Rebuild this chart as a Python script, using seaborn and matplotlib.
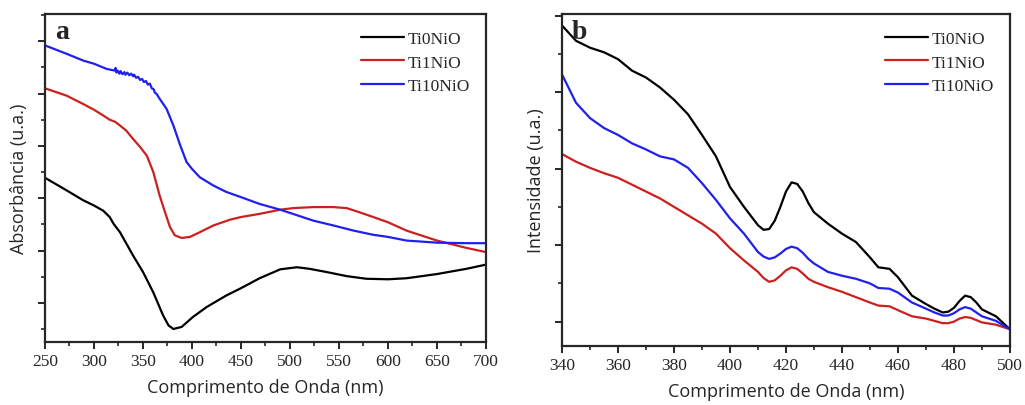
import numpy as np
import pandas as pd
import seaborn as sns
import matplotlib.pyplot as plt
from matplotlib.ticker import MultipleLocator

# panel a: absorbance (arbitrary units)
wl_a_black = [250, 272, 289, 300, 309.5, 316, 320, 326.5, 340, 350, 360.5, 370.5, 376, 381, 389.5, 401, 415, 435, 450, 469, 490, 507, 520, 537, 558, 578, 600, 619, 650, 680, 700]
abs_black = [3.39, 3.15, 2.96, 2.86, 2.76, 2.64, 2.51, 2.35, 1.90, 1.59, 1.20, 0.76, 0.57, 0.50, 0.54, 0.73, 0.92, 1.14, 1.28, 1.47, 1.64, 1.68, 1.65, 1.59, 1.51, 1.46, 1.45, 1.47, 1.55, 1.65, 1.73]
wl_a_red = [250, 272, 289, 300, 309.5, 316, 321.5, 326.5, 333, 340, 347, 354, 360.5, 367, 372.5, 377.5, 382.5, 389.5, 398, 408, 422, 439, 450, 469, 490, 503, 524, 544, 558, 571, 585, 600, 619, 650, 680, 700]
abs_red = [5.10, 4.96, 4.80, 4.69, 4.58, 4.50, 4.46, 4.39, 4.29, 4.13, 3.98, 3.81, 3.50, 3.05, 2.73, 2.45, 2.29, 2.24, 2.26, 2.35, 2.48, 2.59, 2.64, 2.70, 2.78, 2.81, 2.83, 2.83, 2.81, 2.73, 2.64, 2.54, 2.38, 2.19, 2.05, 1.97]
wl_a_blue = [250, 272, 289, 300, 313, 321, 322, 323, 324, 326, 327, 329, 331, 332, 334, 336, 338, 340, 341, 343, 345, 347, 349, 351, 353, 355, 357, 359, 361, 362, 364, 367, 374, 381, 388, 394.5, 400, 408, 422, 435, 450, 469, 490, 503, 524, 544, 565, 585, 600, 619, 650, 680, 700]
abs_blue = [5.92, 5.76, 5.63, 5.57, 5.47, 5.44, 5.49, 5.40, 5.44, 5.38, 5.43, 5.37, 5.41, 5.36, 5.40, 5.35, 5.38, 5.33, 5.36, 5.30, 5.32, 5.26, 5.28, 5.22, 5.24, 5.17, 5.19, 5.10, 5.08, 5.02, 4.99, 4.90, 4.71, 4.39, 4.01, 3.69, 3.56, 3.40, 3.24, 3.12, 3.02, 2.89, 2.78, 2.70, 2.57, 2.48, 2.38, 2.30, 2.26, 2.19, 2.15, 2.14, 2.14]

# panel b: intensity (arbitrary units)
wl_b = [340, 345, 350, 355, 360, 365, 370, 375, 380, 385, 390, 395, 400, 405, 410, 412, 414, 416, 418, 420, 422, 424, 426, 428, 430, 435, 440, 445, 450, 453, 457, 460, 465, 470, 473, 476, 478, 480, 482, 484, 486, 488, 490, 495, 500]
int_black = [4.87, 4.67, 4.58, 4.52, 4.43, 4.28, 4.19, 4.06, 3.90, 3.71, 3.44, 3.16, 2.76, 2.50, 2.26, 2.20, 2.21, 2.32, 2.50, 2.70, 2.82, 2.80, 2.70, 2.55, 2.43, 2.28, 2.15, 2.04, 1.84, 1.71, 1.69, 1.58, 1.34, 1.23, 1.17, 1.12, 1.13, 1.18, 1.27, 1.34, 1.32, 1.25, 1.16, 1.07, 0.90]
int_blue = [4.23, 3.86, 3.66, 3.53, 3.44, 3.33, 3.25, 3.16, 3.12, 3.01, 2.81, 2.59, 2.35, 2.15, 1.91, 1.85, 1.82, 1.84, 1.89, 1.95, 1.98, 1.96, 1.90, 1.82, 1.76, 1.65, 1.60, 1.56, 1.50, 1.44, 1.43, 1.38, 1.25, 1.17, 1.12, 1.08, 1.08, 1.11, 1.16, 1.19, 1.17, 1.12, 1.07, 1.01, 0.90]
int_red = [3.19, 3.09, 3.01, 2.94, 2.88, 2.79, 2.70, 2.61, 2.50, 2.39, 2.28, 2.15, 1.96, 1.80, 1.65, 1.57, 1.52, 1.54, 1.60, 1.67, 1.71, 1.69, 1.63, 1.56, 1.52, 1.45, 1.39, 1.32, 1.25, 1.21, 1.20, 1.15, 1.07, 1.04, 1.01, 0.98, 0.98, 1.00, 1.04, 1.06, 1.05, 1.02, 0.99, 0.96, 0.90]

labels = ['Ti0NiO', 'Ti1NiO', 'Ti10NiO']
colors = ['#000000', '#cc2020', '#2020ee']

dfa = pd.concat([
    pd.DataFrame({'x': wl_a_black, 'y': abs_black, 'Amostra': labels[0]}),
    pd.DataFrame({'x': wl_a_red, 'y': abs_red, 'Amostra': labels[1]}),
    pd.DataFrame({'x': wl_a_blue, 'y': abs_blue, 'Amostra': labels[2]}),
])
dfb = pd.concat([
    pd.DataFrame({'x': wl_b, 'y': int_black, 'Amostra': labels[0]}),
    pd.DataFrame({'x': wl_b, 'y': int_red, 'Amostra': labels[1]}),
    pd.DataFrame({'x': wl_b, 'y': int_blue, 'Amostra': labels[2]}),
])

sns.set_style('ticks')
plt.rcParams['font.family'] = ['Liberation Serif', 'DejaVu Serif']
plt.rcParams['axes.linewidth'] = 1.6

fig = plt.figure(figsize=(10.25, 4.06), dpi=100)
ax1 = fig.add_axes([0.0439, 0.155, 0.4302, 0.808])
ax2 = fig.add_axes([0.5483, 0.145, 0.437, 0.818])
pal = dict(zip(labels, colors))

sans = 'Open Sans'
for ax, df, ylab, xlim, ylim, xmaj, xmin, letter in [
        (ax1, dfa, 'Absorbância (u.a.)', (250, 700), (0.25, 6.52), 50, 25, 'a'),
        (ax2, dfb, 'Intensidade (u.a.)', (340, 500), (0.68, 5.02), 20, 10, 'b')]:
    sns.lineplot(data=df, x='x', y='y', hue='Amostra', palette=pal, hue_order=labels,
                 sort=False, lw=1.6, ax=ax, solid_joinstyle='round')
    ax.set_xlim(xlim)
    ax.set_ylim(ylim)
    ax.xaxis.set_major_locator(MultipleLocator(xmaj))
    ax.xaxis.set_minor_locator(MultipleLocator(xmin))
    ax.yaxis.set_major_locator(MultipleLocator(1))
    ax.yaxis.set_minor_locator(MultipleLocator(0.5))
    ax.set_yticklabels([])
    ax.tick_params(which='major', direction='out', length=5, width=1.4, labelsize=12.5, pad=3)
    ax.tick_params(which='minor', direction='out', length=3, width=1.2)
    ax.set_xlabel('Comprimento de Onda (nm)', family=sans, fontsize=13, labelpad=6)
    ax.set_ylabel(ylab, family=sans, fontsize=13, labelpad=4)
    ax.text(0.022, 0.985, letter, transform=ax.transAxes, ha='left', va='top',
            fontsize=20, fontweight='bold')
    ax.legend(title=None, frameon=False, loc='upper right', bbox_to_anchor=(1.0, 0.995),
              fontsize=12.5, handlelength=2.5, handletextpad=0.2, labelspacing=0.4)

fig.savefig('out.png', dpi=100)
